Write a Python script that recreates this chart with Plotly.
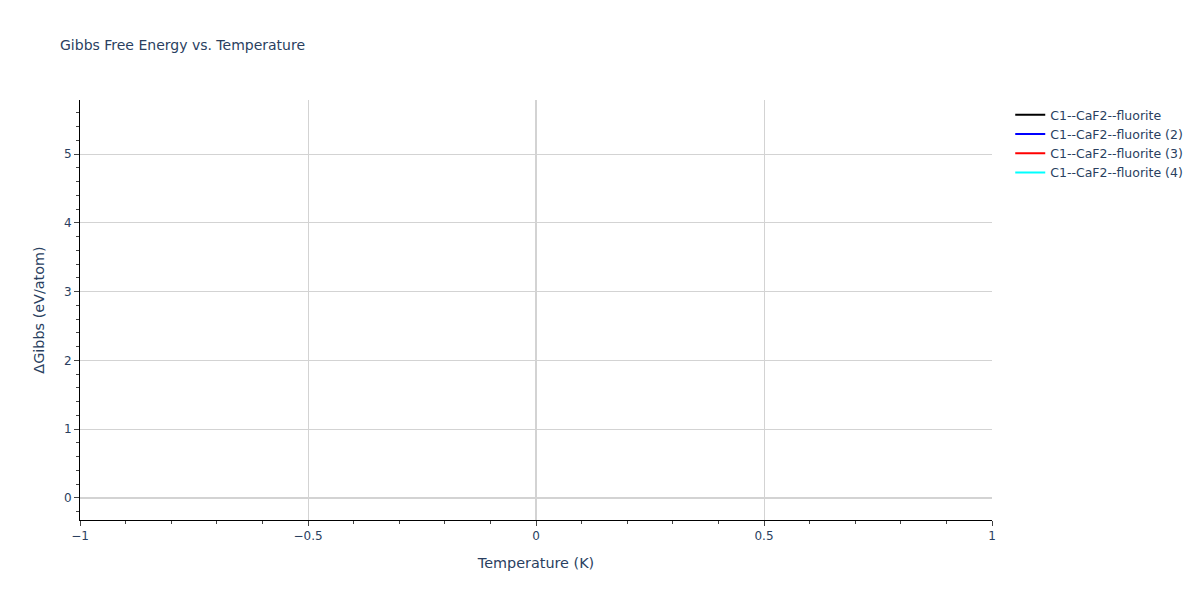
import plotly.graph_objects as go

# traces in the legend (no points drawn in the reference)
names = [
    "C1--CaF2--fluorite",
    "C1--CaF2--fluorite (2)",
    "C1--CaF2--fluorite (3)",
    "C1--CaF2--fluorite (4)",
]
colors = ["black", "blue", "red", "cyan"]
temperature = [None]
gibbs = [None]

y_range = [-0.32, 5.785]
x_range = [-1, 1]

fig = go.Figure()
for name, color in zip(names, colors):
    fig.add_trace(go.Scatter(
        x=temperature, y=gibbs,
        mode="lines",
        name=name,
        line=dict(color=color, width=2),
    ))

axis_style = dict(
    showline=True,
    linecolor="black",
    linewidth=1,
    ticks="outside",
    tickcolor="#444",
    ticklen=5,
    showgrid=True,
    gridcolor="lightgray",
    zeroline=True,
    zerolinecolor="lightgray",
    zerolinewidth=2,
    mirror=False,
)

fig.update_layout(
    template="plotly_white",
    width=1200,
    height=600,
    title=dict(text="Gibbs Free Energy vs. Temperature", font=dict(size=14)),
    font=dict(family="DejaVu Sans", color="#2a3f5f", size=12),
    legend=dict(font=dict(size=12.5)),
    showlegend=True,
    xaxis=dict(
        title=dict(text="Temperature (K)", font=dict(size=14.4)),
        range=x_range,
        dtick=0.5,
        minor=dict(ticks="outside", dtick=0.1, ticklen=3, tickcolor="#444", showgrid=False),
        **axis_style,
    ),
    yaxis=dict(
        title=dict(text="ΔGibbs (eV/atom)", font=dict(size=14.4)),
        range=y_range,
        dtick=1,
        minor=dict(ticks="outside", dtick=0.2, ticklen=3, tickcolor="#444", showgrid=False),
        **axis_style,
    ),
)

fig.write_html(
    "out.html",
    config={"displayModeBar": False},
    post_script="document.body.style.margin='0';",
)
